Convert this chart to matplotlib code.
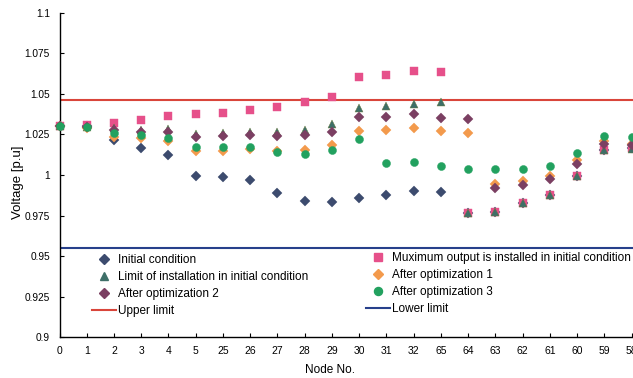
# NODE VOLTAGE PROFILE - RECREATION

import matplotlib
matplotlib.use('Agg')
import matplotlib.pyplot as plt
from matplotlib.lines import Line2D
from matplotlib.ticker import FuncFormatter

plt.rcParams['font.family'] = ['Liberation Sans', 'DejaVu Sans']

# NODE LABELS ALONG THE FEEDER
nodes = ['0', '1', '2', '3', '4', '5', '25', '26', '27', '28', '29', '30',
         '31', '32', '65', '64', '63', '62', '61', '60', '59', '58']

# VOLTAGE VALUES [p.u] FOR EACH CASE
initial = [1.030, 1.030, 1.0214, 1.0167, 1.0125, 0.9995, 0.9985, 0.9968, 0.9891, 0.9842, 0.9833,
           0.9860, 0.9877, 0.9900, 0.9895, 0.9764, 0.9773, 0.9827, 0.9879, 0.9995, 1.0152, 1.0168]
max_output = [1.030, 1.0305, 1.0320, 1.0341, 1.0363, 1.0374, 1.0383, 1.0398, 1.0417, 1.0447, 1.0481,
              1.0602, 1.0615, 1.0641, 1.0634, 0.9764, 0.9773, 0.9827, 0.9879, 0.9995, 1.0152, 1.0168]
limit_install = [1.030, 1.0295, 1.0290, 1.0280, 1.0283, 1.0250, 1.0259, 1.0262, 1.0267, 1.0277, 1.0312,
                 1.0411, 1.0427, 1.0440, 1.0451, 0.9764, 0.9773, 0.9827, 0.9879, 0.9995, 1.0152, 1.0160]
opt1 = [1.030, 1.0290, 1.0235, 1.0230, 1.0210, 1.0148, 1.0150, 1.0158, 1.0150, 1.0157, 1.0186,
        1.0273, 1.0276, 1.0291, 1.0270, 1.0258, 0.9942, 0.9963, 0.9996, 1.0092, 1.0210, 1.0190]
opt2 = [1.030, 1.0295, 1.0275, 1.0264, 1.0268, 1.0234, 1.0239, 1.0248, 1.0241, 1.0246, 1.0265,
        1.0356, 1.0360, 1.0373, 1.0354, 1.0346, 0.9922, 0.9940, 0.9976, 1.0067, 1.0190, 1.0184]
opt3 = [1.030, 1.0295, 1.0260, 1.0248, 1.0225, 1.0174, 1.0171, 1.0170, 1.0144, 1.0132, 1.0152,
        1.0222, 1.0072, 1.0081, 1.0054, 1.0038, 1.0035, 1.0039, 1.0058, 1.0133, 1.0241, 1.0233]

# VOLTAGE LIMITS
upper_limit = 1.046
lower_limit = 0.955

# Y TICKS
y_ticks = [0.9, 0.925, 0.95, 0.975, 1.0, 1.025, 1.05, 1.075, 1.1]

x_pos = list(range(len(nodes)))

fig = plt.figure(figsize=(6.33, 3.78), dpi=100)
ax = fig.add_axes([59.5 / 633, 1 - 337.3 / 378, 1 - 59.5 / 633, (337.3 - 12.7) / 378])

# LIMIT LINES
ax.axhline(upper_limit, color='#d9453a', lw=1.5, zorder=1)
ax.axhline(lower_limit, color='#27408b', lw=1.5, zorder=1)

# SERIES (SAME DRAWING ORDER AS THE ORIGINAL)
mk = dict(ls='none', clip_on=False, mew=0.3, zorder=3)
ax.plot(x_pos, initial, marker='D', ms=4.6, mfc='#3c4b6e', mec='#3c4b6e', **mk)
ax.plot(x_pos, max_output, marker='s', ms=5.5, mfc='#e6508a', mec='#e6508a', **mk)
ax.plot(x_pos, limit_install, marker='^', ms=6, mfc='#3e6f68', mec='#6b7a3a', **mk)
ax.plot(x_pos, opt1, marker='D', ms=4.6, mfc='#f39a4c', mec='#f39a4c', **mk)
ax.plot(x_pos, opt2, marker='D', ms=4.6, mfc='#7b3f62', mec='#7b3f62', **mk)
ax.plot(x_pos, opt3, marker='o', ms=5.8, mfc='#22a15f', mec='#22a15f', **mk)

# AXES
ax.set_xlim(0, 21.05)
ax.set_ylim(0.9, 1.1)
ax.set_xticks(x_pos)
ax.set_xticklabels(nodes)
ax.set_yticks(y_ticks)
ax.yaxis.set_major_formatter(FuncFormatter(lambda v, p: '%g' % round(v, 3)))
ax.tick_params(axis='x', direction='in', length=3, width=0.8, pad=6, labelsize=7.5)
ax.tick_params(axis='y', direction='in', length=3, width=0.8, pad=7, labelsize=7.3)
for side in ['top', 'right']:
    ax.spines[side].set_visible(False)
for side in ['left', 'bottom']:
    ax.spines[side].set_linewidth(1.0)

ax.set_xlabel('Node No.', fontsize=8.5)
ax.xaxis.set_label_coords(0.471, -0.083)
ax.set_ylabel('Voltage [p.u]', fontsize=9.5)
ax.yaxis.set_label_coords(-0.062, 0.478)

# LEGEND - TWO COLUMNS AS TWO LEGENDS
def mh(marker, color, ms):
    return Line2D([], [], ls='none', marker=marker, ms=ms, mfc=color, mec=color)

left_handles = [mh('D', '#3c4b6e', 4.6), mh('^', '#3e6f68', 6), mh('D', '#7b3f62', 4.6),
                Line2D([], [], color='#d9453a', lw=1.5)]
left_labels = ['Initial condition', 'Limit of installation in initial condition',
               'After optimization 2', 'Upper limit']
right_handles = [mh('s', '#e6508a', 5.5), mh('D', '#f39a4c', 4.6), mh('o', '#22a15f', 5.8),
                 Line2D([], [], color='#27408b', lw=1.5)]
right_labels = ['Muximum output is installed in initial condition', 'After optimization 1',
                'After optimization 3', 'Lower limit']

leg_kw = dict(frameon=False, fontsize=8.5, borderpad=0, borderaxespad=0, labelspacing=0.42,
              handlelength=2.0, handletextpad=0.2, loc='upper left', bbox_transform=fig.transFigure)
leg1 = ax.legend(left_handles, left_labels, bbox_to_anchor=(92 / 633, 1 - 254 / 378), **leg_kw)
ax.add_artist(leg1)
ax.legend(right_handles, right_labels, bbox_to_anchor=(366 / 633, 1 - 252 / 378), **leg_kw)

fig.savefig('out.png', dpi=100)
